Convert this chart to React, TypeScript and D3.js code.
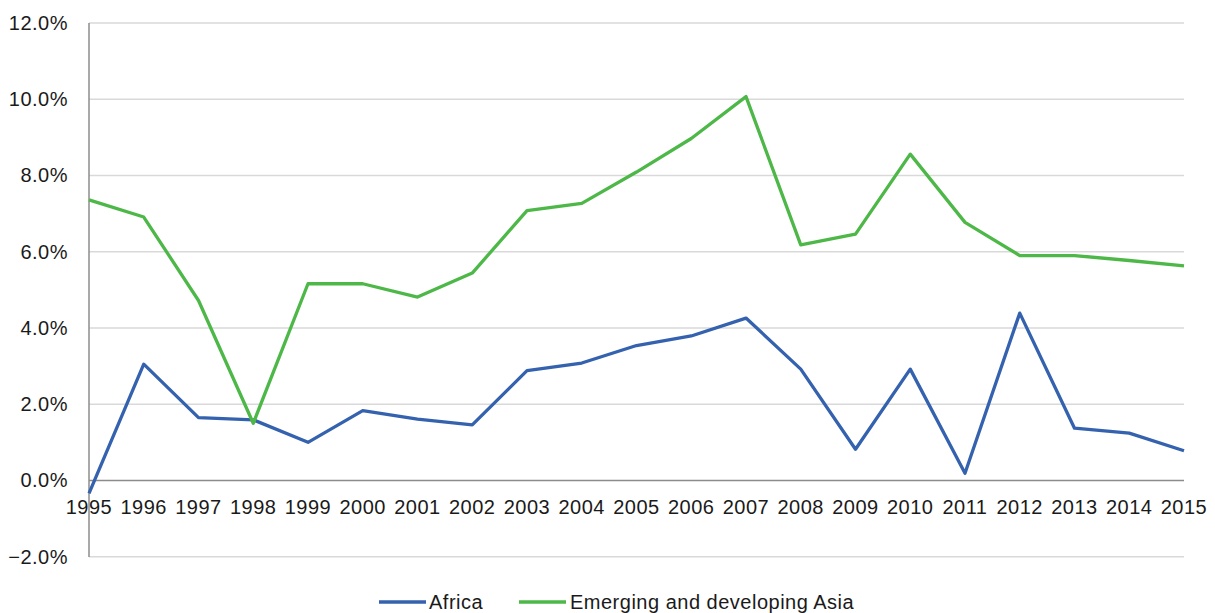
import React from "react";
import * as d3 from "d3";

const years = [1995,1996,1997,1998,1999,2000,2001,2002,2003,2004,2005,2006,2007,2008,2009,2010,2011,2012,2013,2014,2015];
const africa = [-0.34,3.05,1.65,1.59,1.0,1.83,1.61,1.46,2.88,3.08,3.54,3.79,4.26,2.92,0.82,2.92,0.19,4.39,1.37,1.24,0.78];
const asia = [7.36,6.91,4.72,1.5,5.16,5.16,4.81,5.44,7.08,7.27,8.09,8.97,10.07,6.18,6.46,8.56,6.77,5.9,5.9,5.77,5.63];
const yTicks = [-2,0,2,4,6,8,10,12];
const seriesNames = ["Africa", "Emerging and developing Asia"];
const colors = ["#3462AE", "#4DB848"];

export default function App() {
  const W = 1215, H = 613;
  const x = d3.scaleLinear().domain([1995, 2015]).range([89, 1184]);
  const y = d3.scaleLinear().domain([-2, 12]).range([556.7, 23]);
  const line = d3.line<number>().x((_, i) => x(years[i])).y(d => y(d));
  const font = "'Liberation Sans', Arial, Helvetica, sans-serif";
  const fs = 20;
  const ls = 0.5;
  const series = [africa, asia];
  return (
    <svg width={W} height={H} style={{ position: "absolute", left: 0, top: 0, background: "#fff" }}>
      {yTicks.map(t => (
        <g key={t}>
          <line x1={89} x2={1184} y1={y(t)} y2={y(t)} stroke={t === 0 ? "#8c8c8c" : "#d9d9d9"} strokeWidth={1.5} />
          <text x={68} y={y(t)} dy="0.35em" textAnchor="end" fontFamily={font} fontSize={fs} letterSpacing={ls} fill="#1a1a1a">
            {d3.format(".1f")(t) + "%"}
          </text>
        </g>
      ))}
      <line x1={89} x2={89} y1={23} y2={557} stroke="#8c8c8c" strokeWidth={1.5} />
      {years.map(yr => (
        <text key={yr} x={x(yr)} y={514} textAnchor="middle" fontFamily={font} fontSize={fs} letterSpacing={ls} fill="#1a1a1a">{yr}</text>
      ))}
      {series.map((s, i) => (
        <path key={i} d={line(s) || ""} fill="none" stroke={colors[i]} strokeWidth={3.3} strokeLinejoin="round" />
      ))}
      <g>
        <line x1={379} x2={426} y1={602} y2={602} stroke={colors[0]} strokeWidth={3.3} />
        <text x={429} y={602} dy="0.35em" fontFamily={font} fontSize={fs} letterSpacing={ls} fill="#1a1a1a">{seriesNames[0]}</text>
        <line x1={519} x2={566} y1={602} y2={602} stroke={colors[1]} strokeWidth={3.3} />
        <text x={570} y={602} dy="0.35em" fontFamily={font} fontSize={fs} letterSpacing={ls} fill="#1a1a1a">{seriesNames[1]}</text>
      </g>
    </svg>
  );
}
